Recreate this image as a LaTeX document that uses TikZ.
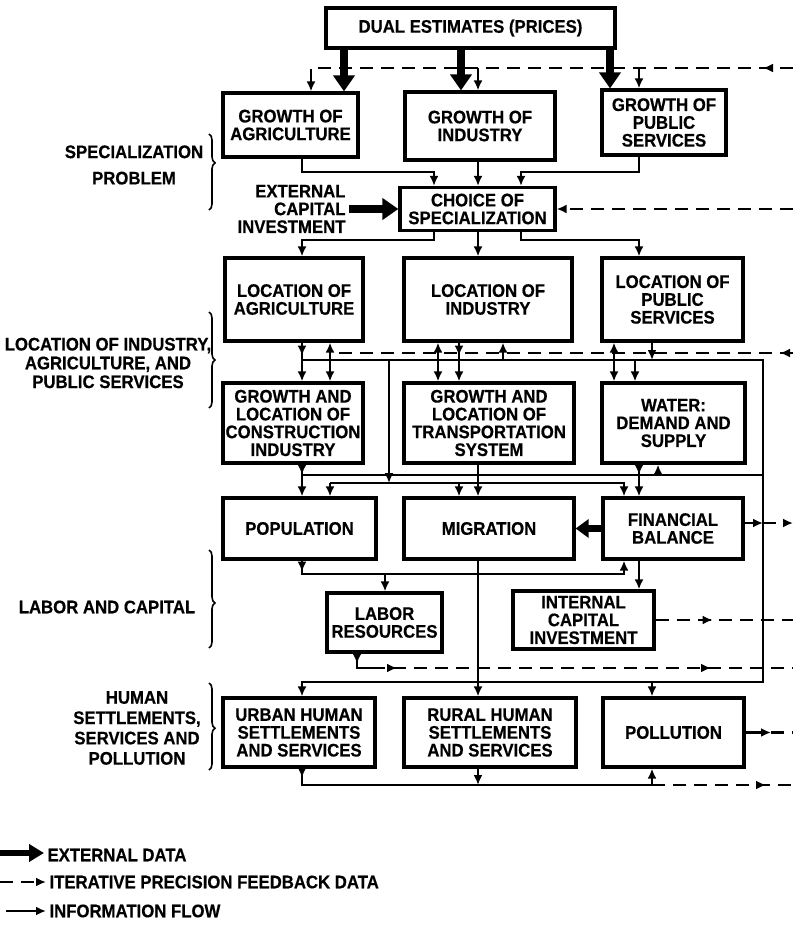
\documentclass[tikz,border=0pt]{standalone}
\usepackage{fontspec}
\setmainfont{Liberation Sans}[FakeStretch=0.92, FakeBold=0.5]
\usetikzlibrary{arrows.meta,decorations.pathreplacing,decorations.markings}
\newcommand{\chartfont}{\fontsize{18.2}{17.8}\selectfont\bfseries}

\begin{document}
\begin{tikzpicture}[x=1pt, y=-1pt, every node/.style={font=\chartfont},
  box/.style={draw, line width=3.2pt, align=center, inner sep=0pt},
  wire/.style={line width=2.3pt},
  flow/.style={wire, -{Latex[length=10pt,width=9pt]}},
  fb/.style={wire, dash pattern=on 13pt off 8pt},
  fbflow/.style={fb, -{Latex[length=10pt,width=9pt]}},
  ext/.style={line width=7.5pt, -{Triangle[length=16pt,width=21pt]}},
  extsm/.style={line width=6.5pt, -{Triangle[length=13pt,width=18pt]}},
  marr/.style={postaction={decorate, decoration={markings,
      mark=at position #1 with {\arrow{Latex[length=10pt,width=9pt]}}}}},
  grp/.style={line width=1.6pt, decorate,
      decoration={brace, amplitude=6pt, aspect=#1}}]
\useasboundingbox (0,0) rectangle (793,936);

% vertical rails
\coordinate (tA) at (344,0);
\coordinate (tB) at (461,0);
\coordinate (tC) at (610,0);
\coordinate (cA) at (302,0);
\coordinate (cAf) at (311,0);
\coordinate (cB) at (330,0);
\coordinate (cS) at (357,0);
\coordinate (cT) at (372,0);
\coordinate (cQ) at (385,0);
\coordinate (cC) at (389,0);
\coordinate (cD) at (434,0);
\coordinate (cE) at (438,0);
\coordinate (cF) at (459,0);
\coordinate (cG) at (478,0);
\coordinate (cH) at (503,0);
\coordinate (cI) at (521,0);
\coordinate (cJ) at (614,0);
\coordinate (cK) at (624,0);
\coordinate (cL) at (635,0);
\coordinate (cM) at (639,0);
\coordinate (cN) at (652,0);
\coordinate (cO) at (658,0);
\coordinate (rail) at (763,0);
\coordinate (edge) at (793,0);
% horizontal levels
\coordinate (hTop) at (0,68);
\coordinate (hGr) at (0,172);
\coordinate (hCh) at (0,240);
\coordinate (hFb) at (0,353);
\coordinate (hBus) at (0,360);
\coordinate (hMid) at (0,475);
\coordinate (hMid2) at (0,483);
\coordinate (hFin) at (0,523);
\coordinate (hPop) at (0,574);
\coordinate (hLab) at (0,668);
\coordinate (hSet) at (0,682);
\coordinate (hBot) at (0,785);
\coordinate (pollOut) at (771,732.5);

% boxes
\node[box, minimum width=289pt, minimum height=40pt] (dual) at (470.5,28) {DUAL ESTIMATES (PRICES)};
\node[box, minimum width=135pt, minimum height=64pt] (gagri) at (290.5,125) {GROWTH OF\\AGRICULTURE};
\node[box, minimum width=150pt, minimum height=68pt] (gind) at (480,126) {GROWTH OF\\INDUSTRY};
\node[box, minimum width=124pt, minimum height=65pt] (gpub) at (664,122.5) {GROWTH OF\\PUBLIC\\SERVICES};
\node[box, minimum width=155pt, minimum height=43pt] (choice) at (477.5,209) {CHOICE OF\\SPECIALIZATION};
\node[box, minimum width=138pt, minimum height=83pt] (lagri) at (294,299.5) {LOCATION OF\\AGRICULTURE};
\node[box, minimum width=168pt, minimum height=83pt] (lind) at (488,299.5) {LOCATION OF\\INDUSTRY};
\node[box, minimum width=141pt, minimum height=83pt] (lpub) at (672.5,299.5) {LOCATION OF\\PUBLIC\\SERVICES};
\node[box, minimum width=140pt, minimum height=80pt] (constr) at (293,423) {GROWTH AND\\LOCATION OF\\CONSTRUCTION\\INDUSTRY};
\node[box, minimum width=170pt, minimum height=80pt] (trans) at (489,423) {GROWTH AND\\LOCATION OF\\TRANSPORTATION\\SYSTEM};
\node[box, minimum width=143pt, minimum height=80pt] (water) at (673.5,423) {WATER:\\DEMAND AND\\SUPPLY};
\node[box, minimum width=153pt, minimum height=61pt] (pop) at (299.5,528.5) {POPULATION};
\node[box, minimum width=170pt, minimum height=61pt] (migr) at (489,528.5) {MIGRATION};
\node[box, minimum width=140pt, minimum height=61pt] (fin) at (673,528.5) {FINANCIAL\\BALANCE};
\node[box, minimum width=115pt, minimum height=59pt] (labor) at (384.5,622.5) {LABOR\\RESOURCES};
\node[box, minimum width=141pt, minimum height=58pt] (icap) at (583.5,620) {INTERNAL\\CAPITAL\\INVESTMENT};
\node[box, minimum width=152pt, minimum height=69pt] (urban) at (299,732.5) {URBAN HUMAN\\SETTLEMENTS\\AND SERVICES};
\node[box, minimum width=172pt, minimum height=69pt] (rural) at (490,732.5) {RURAL HUMAN\\SETTLEMENTS\\AND SERVICES};
\node[box, minimum width=141pt, minimum height=69pt] (poll) at (673.5,732.5) {POLLUTION};
\node[anchor=east, align=right] (extcap) at (349,209) {EXTERNAL\\CAPITAL\\INVESTMENT};

% group labels
\node[align=center] (spec) at (134,165) {SPECIALIZATION\\[8.5pt]PROBLEM};
\node[align=center] (locgrp) at (108,363) {LOCATION OF INDUSTRY,\\[1pt]AGRICULTURE, AND\\[1pt]PUBLIC SERVICES};
\node (labgrp) at (107,607) {LABOR AND CAPITAL};
\node[align=center] (humgrp) at (137,728) {HUMAN\\[2.5pt]SETTLEMENTS,\\[2.5pt]SERVICES AND\\[2.5pt]POLLUTION};
\draw[grp=0.38] (209,134) -- (209,210);
\draw[grp=0.5] (209,312) -- (209,408);
\draw[grp=0.54] (209,550) -- (209,648);
\draw[grp=0.52] (209,683) -- (209,770);

% prices and growth
\draw[ext] (dual.south -| tA) -- (gagri.north -| tA);
\draw[ext] (dual.south -| tB) -- (gind.north -| tB);
\draw[ext] (dual.south -| tC) -- (gpub.north -| tC);
\draw[fbflow, marr=30pt] (edge |- hTop) -- (cAf |- hTop) -- (gagri.north -| cAf);
\draw[fbflow] (cG |- hTop) -- (gind.north -| cG);
\draw[fbflow] (cM |- hTop) -- (gpub.north -| cM);

% choice of specialization
\draw[flow] (gagri.south -| cA) -- (cA |- hGr) -- (cD |- hGr) -- (choice.north -| cD);
\draw[flow] (gind.south -| cG) -- (choice.north -| cG);
\draw[flow] (gpub.south -| cM) -- (cM |- hGr) -- (cI |- hGr) -- (choice.north -| cI);
\draw[ext] (extcap.east) -- (choice.west);
\draw[fbflow] (edge |- choice.east) -- (choice.east);
\draw[flow] (choice.south -| cD) -- (cD |- hCh) -- (cA |- hCh) -- (lagri.north -| cA);
\draw[flow] (choice.south -| cG) -- (lind.north -| cG);
\draw[flow] (choice.south -| cI) -- (cI |- hCh) -- (cM |- hCh) -- (lpub.north -| cM);

% location
\draw[fbflow, marr=13pt] (edge |- hFb) -- (cB |- hFb) -- (lagri.south -| cB);
\draw[fbflow] (cE |- hFb) -- (lind.south -| cE);
\draw[fbflow] (cJ |- hFb) -- (lpub.south -| cJ);
\draw[flow] (cA |- hBus) -- (rail |- hBus) -- (rail |- hSet) -- (cA |- hSet) -- (urban.north -| cA);
\draw[flow, marr=13pt] (lagri.south -| cA) -- (constr.north -| cA);
\draw[flow] (cB |- hFb) -- (constr.north -| cB);
\draw[flow] (cE |- hFb) -- (trans.north -| cE);
\draw[flow, marr=13pt] (lind.south -| cF) -- (trans.north -| cF);
\draw[flow] (cH |- hBus) -- (lind.south -| cH);
\draw[flow] (cJ |- hFb) -- (water.north -| cJ);
\draw[flow] (cL |- hBus) -- (water.north -| cL);
\draw[flow] (lpub.south -| cN) -- (cN |- hBus);
\draw[flow] (cC |- hBus) -- (cC |- hMid2);

% population, migration, finance
\draw[wire] (cA |- hMid) -- (rail |- hMid);
\draw[flow, marr=10pt] (constr.south -| cA) -- (pop.north -| cA);
\draw[flow] (trans.south -| cG) -- (migr.north -| cG);
\draw[flow, marr=10pt] (water.south -| cM) -- (fin.north -| cM);
\draw[flow] (cO |- hMid) -- (water.south -| cO);
\draw[flow] (cB |- hMid2) -- (cK |- hMid2) -- (fin.north -| cK);
\draw[flow] (cB |- hMid2) -- (pop.north -| cB);
\draw[flow] (cF |- hMid2) -- (migr.north -| cF);
\draw[extsm] (fin.west) -- (migr.east);
\draw[flow] (fin.east |- hFin) -- (rail |- hFin);
\draw[fbflow] (rail |- hFin) -- (edge |- hFin);

% labor and capital
\draw[flow, marr=11pt] (pop.south -| cA) -- (cA |- hPop) -- (cK |- hPop) -- (fin.south -| cK);
\draw[flow] (cQ |- hPop) -- (labor.north -| cQ);
\draw[flow] (fin.south -| cM) -- (icap.north -| cM);
\draw[flow] (migr.south -| cG) -- (rural.north -| cG);
\draw[fb, marr=57pt] (icap.east) -- (edge |- icap.east);
\draw[wire, marr=10pt] (labor.south -| cS) -- (cS |- hLab) -- (cT |- hLab);
\draw[fb, marr=25pt, marr=339pt] (cT |- hLab) -- (edge |- hLab);

% settlements and pollution
\draw[flow] (cN |- hSet) -- (poll.north -| cN);
\draw[flow, marr=9pt] (urban.south -| cA) -- (cA |- hBot) -- (cN |- hBot) -- (poll.south -| cN);
\draw[flow] (rural.south -| cG) -- (cG |- hBot);
\draw[fb, marr=114pt] (cN |- hBot) -- (edge |- hBot);
\draw[flow] (poll.east |- pollOut) -- (pollOut);
\draw[fb] (pollOut) -- (edge |- pollOut);

% key
\coordinate (keyA) at (0,853);
\coordinate (keyB) at (0,882);
\coordinate (keyC) at (6,911);
\node[anchor=west] (keyExt) at (44,855) {EXTERNAL DATA};
\node[anchor=west] (keyFb) at (46,882) {ITERATIVE PRECISION FEEDBACK DATA};
\node[anchor=west] (keyFl) at (46,911) {INFORMATION FLOW};
\draw[line width=6.5pt, -{Triangle[length=15pt,width=17pt]}] (keyA) -- (keyExt.west |- keyA);
\draw[fbflow] (keyB) -- (keyFb.west);
\draw[flow] (keyC) -- (keyFl.west);
\end{tikzpicture}
\end{document}
